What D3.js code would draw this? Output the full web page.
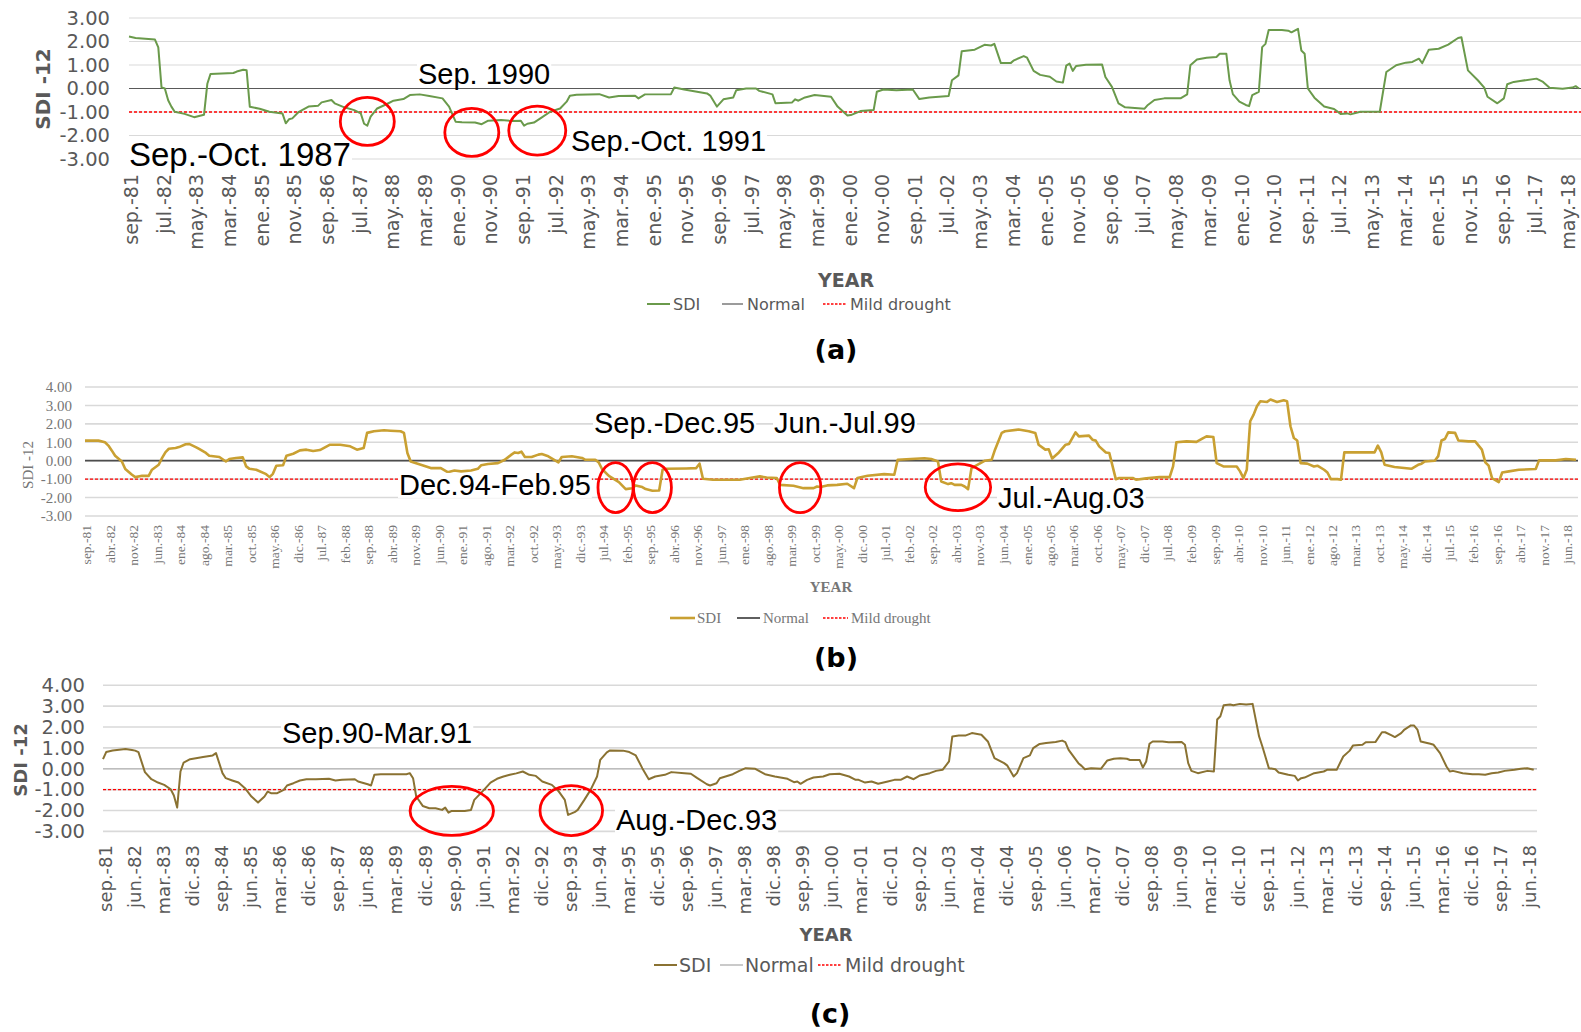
<!doctype html>
<html>
<head>
<meta charset="utf-8">
<script src="https://cdn.jsdelivr.net/npm/d3@7"></script>
<style>
  body { margin: 0; background: #fff; }
  svg { display: block; }
</style>
</head>
<body>
<svg width="1581" height="1032"></svg>
<script>
// ---- data (SDI-12, monthly at its break points) ----
const monthsEs = ["ene.", "feb.", "mar.", "abr.", "may.", "jun.", "jul.", "ago.", "sep.", "oct.", "nov.", "dic."];
const legendNames = ["SDI", "Normal", "Mild drought"];
const normalLevel = 0;
const mildLevel = -1;
const yTicksA = [3, 2, 1, 0, -1, -2, -3];
const yTicksBC = [4, 3, 2, 1, 0, -1, -2, -3];

const datesA = ["1981-09","1981-11","1982-05","1982-06","1982-07","1982-08","1982-09","1982-10","1982-11","1983-02",
  "1983-05","1983-08","1983-09","1983-10","1984-05","1984-06","1984-08","1984-09","1984-10","1985-01",
  "1985-04","1985-08","1985-09","1985-10","1985-11","1986-01","1986-04","1986-07","1986-08","1986-11",
  "1986-12","1987-03","1987-06","1987-08","1987-09","1987-10","1987-11","1988-01","1988-04","1988-06",
  "1988-09","1988-11","1989-02","1989-05","1989-09","1989-11","1990-01","1990-03","1990-07","1990-09",
  "1990-11","1991-03","1991-06","1991-09","1991-10","1991-11","1992-01","1992-03","1992-06","1992-09",
  "1992-11","1992-12","1993-02","1993-09","1993-12","1994-03","1994-08","1994-09","1994-11","1995-07",
  "1995-08","1995-11","1996-06","1996-07","1996-09","1996-11","1997-02","1997-03","1997-06","1997-09",
  "1997-10","1998-02","1998-03","1998-08","1998-09","1998-10","1998-12","1999-03","1999-08","1999-10",
  "2000-01","2000-02","2000-05","2000-09","2000-10","2000-12","2001-04","2001-09","2001-11","2002-02",
  "2002-08","2002-09","2002-11","2002-12","2003-04","2003-07","2003-09","2003-10","2003-12","2004-03",
  "2004-04","2004-07","2004-08","2004-10","2004-12","2005-03","2005-05","2005-07","2005-08","2005-09",
  "2005-10","2005-11","2006-02","2006-07","2006-08","2006-10","2006-12","2007-02","2007-08","2007-09",
  "2007-11","2008-02","2008-07","2008-09","2008-10","2008-12","2009-03","2009-06","2009-07","2009-09",
  "2009-10","2009-11","2010-01","2010-03","2010-04","2010-05","2010-07","2010-08","2010-09","2010-10",
  "2011-02","2011-04","2011-05","2011-07","2011-08","2011-09","2011-10","2011-12","2012-03","2012-06",
  "2012-08","2012-10","2012-11","2013-02","2013-08","2013-10","2014-01","2014-04","2014-06","2014-08",
  "2014-09","2014-11","2015-02","2015-05","2015-08","2015-09","2015-11","2016-02","2016-04","2016-05",
  "2016-08","2016-10","2016-11","2017-01","2017-03","2017-08","2017-10","2017-12","2018-04","2018-07",
  "2018-08","2018-09"];
const sdiA = [2.21,2.15,2.08,1.75,0.05,0.00,-0.50,-0.77,-0.99,-1.08,
  -1.22,-1.12,0.20,0.62,0.66,0.72,0.80,0.78,-0.78,-0.86,
  -0.99,-1.06,-1.48,-1.31,-1.27,-0.99,-0.77,-0.73,-0.59,-0.49,
  -0.63,-0.80,-0.92,-1.06,-1.50,-1.58,-1.20,-0.85,-0.66,-0.52,
  -0.45,-0.28,-0.25,-0.32,-0.42,-0.77,-1.41,-1.44,-1.45,-1.52,
  -1.37,-1.34,-1.38,-1.37,-1.58,-1.50,-1.45,-1.27,-0.99,-0.85,
  -0.56,-0.31,-0.27,-0.24,-0.38,-0.32,-0.31,-0.42,-0.25,-0.24,
  0.04,-0.04,-0.21,-0.30,-0.77,-0.46,-0.38,-0.07,0.00,0.00,
  -0.10,-0.25,-0.63,-0.60,-0.46,-0.52,-0.38,-0.28,-0.35,-0.77,
  -1.15,-1.13,-0.96,-0.92,-0.14,-0.04,-0.07,-0.04,-0.45,-0.38,
  -0.32,0.35,0.56,1.59,1.65,1.86,1.83,1.90,1.08,1.08,
  1.20,1.38,1.31,0.75,0.58,0.50,0.30,0.25,0.97,1.06,
  0.75,0.96,1.01,1.02,0.49,0.07,-0.63,-0.80,-0.86,-0.70,
  -0.49,-0.42,-0.42,-0.25,0.99,1.23,1.31,1.34,1.48,1.48,
  0.35,-0.24,-0.56,-0.70,-0.75,-0.28,-0.14,1.76,1.90,2.49,
  2.49,2.46,2.39,2.54,1.62,1.48,0.00,-0.39,-0.77,-0.87,
  -1.08,-1.06,-1.10,-0.99,-0.99,0.70,0.99,1.10,1.13,1.27,
  1.08,1.65,1.69,1.87,2.15,2.18,0.77,0.35,0.04,-0.35,
  -0.63,-0.42,0.18,0.28,0.32,0.42,0.28,0.03,-0.01,0.04,
  0.10,0.00];

const datesB = ["1981-09","1981-11","1982-01","1982-03","1982-04","1982-05","1982-06","1982-08","1982-09","1982-11",
  "1982-12","1983-02","1983-04","1983-05","1983-07","1983-08","1983-09","1983-10","1983-12","1984-01",
  "1984-03","1984-04","1984-06","1984-07","1984-09","1984-10","1985-01","1985-03","1985-04","1985-06",
  "1985-08","1985-09","1985-10","1985-12","1986-03","1986-04","1986-05","1986-06","1986-08","1986-09",
  "1986-11","1987-01","1987-03","1987-05","1987-07","1987-10","1988-01","1988-04","1988-06","1988-08",
  "1988-09","1988-11","1989-02","1989-04","1989-07","1989-08","1989-09","1989-10","1990-01","1990-04",
  "1990-07","1990-09","1990-11","1991-01","1991-04","1991-06","1991-07","1991-09","1991-12","1992-02",
  "1992-04","1992-05","1992-06","1992-07","1992-08","1992-10","1992-12","1993-01","1993-03","1993-05",
  "1993-06","1993-07","1993-10","1994-01","1994-02","1994-05","1994-06","1994-07","1994-09","1994-12",
  "1995-02","1995-04","1995-05","1995-07","1995-08","1995-10","1995-12","1996-01","1996-02","1996-08",
  "1996-11","1996-12","1997-01","1997-04","1997-08","1997-12","1998-03","1998-06","1998-08","1998-11",
  "1998-12","1999-04","1999-07","1999-10","1999-11","1999-12","2000-02","2000-05","2000-08","2000-10",
  "2000-11","2001-02","2001-07","2001-10","2001-11","2002-03","2002-07","2002-09","2002-11","2002-12",
  "2003-02","2003-03","2003-04","2003-06","2003-07","2003-08","2003-09","2004-01","2004-03","2004-04",
  "2004-06","2004-07","2004-11","2005-02","2005-04","2005-05","2005-07","2005-08","2005-09","2005-11",
  "2006-01","2006-02","2006-04","2006-05","2006-08","2006-09","2006-10","2006-11","2007-01","2007-02",
  "2007-04","2007-05","2007-09","2007-10","2008-01","2008-05","2008-08","2008-09","2008-10","2009-01",
  "2009-04","2009-06","2009-07","2009-09","2009-10","2009-12","2010-04","2010-05","2010-06","2010-07",
  "2010-08","2010-09","2010-10","2010-11","2011-01","2011-02","2011-04","2011-06","2011-07","2011-08",
  "2011-09","2011-10","2011-11","2012-01","2012-03","2012-04","2012-06","2012-07","2012-08","2012-10",
  "2012-11","2012-12","2013-04","2013-09","2013-10","2013-11","2013-12","2014-03","2014-08","2014-10",
  "2014-11","2014-12","2015-03","2015-04","2015-05","2015-06","2015-07","2015-09","2015-10","2016-01",
  "2016-03","2016-05","2016-06","2016-07","2016-08","2016-10","2016-11","2017-01","2017-04","2017-09",
  "2017-10","2018-03","2018-06","2018-09"];
const sdiB = [1.09,1.10,1.09,1.00,0.82,0.56,0.27,-0.04,-0.45,-0.76,
  -0.89,-0.82,-0.82,-0.49,-0.22,0.15,0.47,0.65,0.69,0.74,
  0.89,0.91,0.74,0.64,0.42,0.27,0.20,-0.04,0.09,0.15,
  0.18,-0.31,-0.44,-0.49,-0.73,-0.89,-0.71,-0.27,-0.25,0.27,
  0.38,0.56,0.60,0.53,0.58,0.87,0.87,0.78,0.60,0.69,
  1.51,1.60,1.65,1.63,1.60,1.51,0.42,-0.04,-0.22,-0.40,
  -0.40,-0.62,-0.53,-0.58,-0.53,-0.44,-0.25,-0.18,-0.13,0.05,
  0.33,0.45,0.42,0.49,0.20,0.20,0.33,0.36,0.24,0.02,
  -0.09,0.20,0.24,0.15,0.05,0.05,-0.09,-0.45,-0.82,-1.16,
  -1.54,-1.49,-1.34,-1.43,-1.54,-1.63,-1.62,-0.49,-0.44,-0.42,
  -0.40,-0.16,-0.98,-1.03,-1.03,-1.03,-0.94,-0.85,-0.91,-0.94,
  -1.31,-1.36,-1.49,-1.49,-1.40,-1.43,-1.34,-1.31,-1.25,-1.49,
  -0.94,-0.82,-0.73,-0.76,0.05,0.09,0.13,0.09,-0.04,-1.13,
  -1.27,-1.22,-1.31,-1.31,-1.40,-1.54,-0.40,0.00,0.05,0.60,
  1.51,1.60,1.69,1.60,1.51,0.87,0.60,0.62,0.12,0.45,
  0.87,0.91,1.54,1.32,1.36,1.14,1.09,0.78,0.45,0.42,
  -1.00,-0.94,-0.94,-1.03,-0.96,-0.89,-0.89,-0.31,1.00,1.05,
  1.02,1.23,1.32,1.29,-0.13,-0.31,-0.31,-0.58,-0.94,-0.49,
  2.14,2.50,2.96,3.23,3.19,3.32,3.19,3.28,3.23,1.87,
  1.23,1.10,-0.13,-0.16,-0.31,-0.27,-0.49,-0.64,-1.00,-1.00,
  -1.03,0.45,0.45,0.45,0.82,0.45,-0.22,-0.34,-0.44,-0.22,
  -0.16,-0.04,0.00,0.25,1.10,1.18,1.54,1.51,1.10,1.05,
  1.05,0.60,-0.09,-0.27,-0.94,-1.16,-0.64,-0.58,-0.49,-0.45,
  0.02,0.02,0.09,0.05];

const datesC = ["1981-09","1981-10","1981-12","1982-04","1982-06","1982-07","1982-08","1982-10","1982-12","1983-02",
  "1983-04","1983-06","1983-07","1983-08","1983-09","1983-10","1983-12","1984-04","1984-07","1984-08",
  "1984-10","1984-11","1985-01","1985-03","1985-05","1985-07","1985-09","1985-11","1985-12","1986-01",
  "1986-03","1986-05","1986-06","1986-08","1986-10","1986-12","1987-03","1987-07","1987-09","1987-11",
  "1988-03","1988-04","1988-07","1988-08","1988-09","1988-11","1989-03","1989-07","1989-08","1989-09",
  "1989-10","1989-12","1990-02","1990-04","1990-06","1990-07","1990-08","1990-09","1991-01","1991-03",
  "1991-04","1991-07","1991-09","1991-11","1992-01","1992-03","1992-05","1992-07","1992-09","1992-11",
  "1993-01","1993-04","1993-06","1993-08","1993-09","1993-11","1993-12","1994-02","1994-04","1994-06",
  "1994-07","1994-09","1994-10","1995-02","1995-04","1995-06","1995-08","1995-10","1995-12","1996-03",
  "1996-05","1996-09","1996-11","1997-01","1997-04","1997-05","1997-07","1997-08","1997-12","1998-02",
  "1998-04","1998-07","1998-10","1999-01","1999-05","1999-07","1999-08","1999-09","1999-11","2000-01",
  "2000-04","2000-06","2000-09","2000-12","2001-02","2001-03","2001-05","2001-07","2001-09","2001-12",
  "2002-02","2002-04","2002-06","2002-08","2002-10","2003-01","2003-03","2003-05","2003-07","2003-08",
  "2003-10","2003-12","2004-02","2004-05","2004-07","2004-09","2004-12","2005-01","2005-03","2005-04",
  "2005-06","2005-08","2005-09","2005-11","2006-01","2006-04","2006-06","2006-07","2006-08","2006-11",
  "2006-12","2007-01","2007-03","2007-06","2007-08","2007-10","2007-12","2008-02","2008-03","2008-06",
  "2008-07","2008-08","2008-09","2008-10","2009-01","2009-03","2009-07","2009-08","2009-09","2009-10",
  "2009-12","2010-03","2010-05","2010-06","2010-07","2010-08","2010-10","2010-11","2011-01","2011-03",
  "2011-05","2011-07","2011-08","2011-10","2011-12","2012-01","2012-04","2012-06","2012-07","2012-08",
  "2012-09","2012-12","2013-03","2013-04","2013-07","2013-09","2013-11","2013-12","2014-03","2014-04",
  "2014-07","2014-09","2014-10","2014-12","2015-01","2015-03","2015-04","2015-06","2015-07","2015-08",
  "2015-09","2015-12","2016-01","2016-03","2016-05","2016-06","2016-07","2016-10","2017-01","2017-03",
  "2017-05","2017-07","2017-09","2017-11","2018-02","2018-04","2018-06","2018-08"];
const sdiC = [0.46,0.80,0.88,0.95,0.90,0.87,0.80,-0.16,-0.50,-0.66,
  -0.77,-0.98,-1.28,-1.86,-0.13,0.30,0.46,0.56,0.64,0.75,
  -0.21,-0.45,-0.56,-0.66,-0.93,-1.33,-1.62,-1.33,-1.09,-1.17,
  -1.17,-1.01,-0.80,-0.69,-0.56,-0.50,-0.50,-0.48,-0.56,-0.53,
  -0.50,-0.61,-0.74,-0.80,-0.29,-0.26,-0.26,-0.26,-0.21,-0.45,
  -1.33,-1.78,-1.89,-1.89,-1.97,-1.86,-2.10,-2.02,-2.02,-1.97,
  -1.49,-1.01,-0.66,-0.48,-0.37,-0.29,-0.22,-0.13,-0.29,-0.34,
  -0.61,-0.77,-1.06,-1.49,-2.21,-2.08,-1.97,-1.49,-1.01,-0.37,
  0.43,0.79,0.88,0.87,0.80,0.64,0.03,-0.50,-0.37,-0.29,
  -0.16,-0.21,-0.24,-0.45,-0.74,-0.80,-0.69,-0.45,-0.26,-0.10,
  0.03,0.00,-0.26,-0.37,-0.48,-0.64,-0.61,-0.72,-0.53,-0.42,
  -0.37,-0.26,-0.24,-0.37,-0.53,-0.53,-0.66,-0.61,-0.72,-0.61,
  -0.53,-0.53,-0.37,-0.50,-0.32,-0.21,-0.10,-0.05,0.35,1.55,
  1.59,1.59,1.71,1.63,1.31,0.51,0.27,0.15,-0.37,-0.21,
  0.51,0.64,0.99,1.19,1.23,1.28,1.35,1.28,0.91,0.27,
  0.14,-0.02,0.03,0.00,0.40,0.48,0.51,0.48,0.42,0.42,
  0.06,0.35,1.20,1.31,1.31,1.27,1.28,1.15,0.27,-0.10,
  -0.21,-0.10,-0.13,2.36,2.52,3.04,3.08,3.04,3.11,3.08,
  3.11,1.55,1.07,0.03,-0.02,-0.18,-0.29,-0.34,-0.56,-0.45,
  -0.42,-0.21,-0.13,-0.05,-0.05,0.59,0.87,1.11,1.15,1.27,
  1.28,1.75,1.75,1.60,1.52,1.71,1.88,2.08,2.07,1.88,
  1.31,1.20,1.15,0.75,0.11,-0.13,-0.10,-0.21,-0.26,-0.26,
  -0.29,-0.21,-0.18,-0.10,-0.05,0.00,0.03,-0.05];

// ---- drawing ----
const parseMonth = d3.utcParse("%Y-%m");
const axisStart = parseMonth("1981-09");
const axisEnd = parseMonth("2018-09");
const svg = d3.select("svg");
svg.append("rect").attr("width", 1581).attr("height", 1032).attr("fill", "#fff");

const VERDANA = "'DejaVu Sans', Verdana, sans-serif";
const TIMES = "'Liberation Serif', 'Times New Roman', serif";
const ARIAL = "'Liberation Sans', Arial, sans-serif";

const panels = [
  { dates: datesA, values: sdiA, yTicks: yTicksA, tickStep: 10,
    left: 129, right: 1579, gridRight: 1581, top: 18, bottom: 159, gridW: 1.2,
    color: "#6a9a4b", lineW: 2, zeroColor: "#595959", zeroW: 1.2,
    font: VERDANA, textColor: "#595959", yLabelRight: 110, yLabelSize: 19.5,
    tickTop: 174, tickSize: 19, tickDx: 2,
    title: [43, 89, 20], year: [846, 280, 19], yearFont: VERDANA,
    legendY: 304, legendSize: 16, legend: [[647, 670, 673], [722, 743, 747], [823, 847, 850]],
    caption: ["(a)", 836, 350],
    notes: [["Sep. 1990", 418, 84, 29], ["Sep.-Oct. 1987", 129, 166, 33], ["Sep.-Oct. 1991", 571, 151, 29]],
    rings: [["1987-10", -1.40, 27, 24], ["1990-06", -1.87, 27, 24], ["1992-02", -1.79, 28.5, 24.5]] },
  { dates: datesB, values: sdiB, yTicks: yTicksBC, tickStep: 7,
    left: 85, right: 1576, gridRight: 1578, top: 387, bottom: 516, gridW: 1.6,
    color: "#c9a032", lineW: 2.6, zeroColor: "#4d4d4d", zeroW: 1.8,
    font: TIMES, textColor: "#767676", yLabelRight: 72, yLabelSize: 15,
    tickTop: 525, tickSize: 13.5, tickDx: 1,
    title: [28, 465, 15], year: [831, 587, 15], yearFont: TIMES,
    legendY: 618, legendSize: 15, legend: [[670, 695, 697], [737, 760, 763], [823, 848, 851]],
    caption: ["(b)", 836, 658],
    notes: [["Sep.-Dec.95", 594, 433, 29], ["Jun.-Jul.99", 774, 433, 29], ["Dec.94-Feb.95", 399, 495, 29], ["Jul.-Aug.03", 998, 508, 29]],
    rings: [["1994-11", -1.46, 17.6, 25], ["1995-10", -1.46, 19, 25], ["1999-06", -1.46, 20.7, 25], ["2003-05", -1.44, 32.7, 23.3]] },
  { dates: datesC, values: sdiC, yTicks: yTicksBC, tickStep: 9,
    left: 103, right: 1537, gridRight: 1537, top: 685.3, bottom: 831.4, gridW: 1.6,
    color: "#8a7232", lineW: 2, zeroColor: "#bdbdbd", zeroW: 1.6,
    font: VERDANA, textColor: "#595959", yLabelRight: 85, yLabelSize: 19.5,
    tickTop: 845, tickSize: 18, tickDx: 2,
    title: [21, 760, 18], year: [826, 935, 18], yearFont: VERDANA,
    legendY: 965, legendSize: 19, legend: [[654, 677, 679], [720, 743, 745], [818, 842, 845]],
    caption: ["(c)", 830, 1014],
    notes: [["Sep.90-Mar.91", 282, 743, 29], ["Aug.-Dec.93", 616, 830, 29]],
    rings: [["1990-09", -2.02, 41.7, 24.5], ["1993-10", -2.0, 31.3, 25]] }
];

function drawPanel(p) {
  const x = d3.scaleUtc().domain([axisStart, axisEnd]).range([p.left, p.right]);
  const y = d3.scaleLinear().domain([d3.min(p.yTicks), d3.max(p.yTicks)]).range([p.bottom, p.top]);
  const g = svg.append("g");

  // gridlines
  g.append("g").selectAll("line").data(p.yTicks).enter().append("line")
    .attr("x1", p.left).attr("x2", p.gridRight)
    .attr("y1", d => y(d)).attr("y2", d => y(d))
    .attr("stroke", "#d9d9d9").attr("stroke-width", p.gridW);

  // y axis labels
  g.append("g").attr("transform", "translate(" + p.yLabelRight + ",0)")
    .call(d3.axisLeft(y).tickValues(p.yTicks).tickSize(0).tickPadding(0).tickFormat(d => d.toFixed(2)))
    .call(a => a.select(".domain").remove())
    .selectAll("text")
      .attr("font-family", p.font).attr("font-size", p.yLabelSize).attr("fill", p.textColor);

  // x axis labels, every tickStep months, rotated
  const tickDates = d3.utcMonth.range(axisStart, d3.utcMonth.offset(axisEnd, 1))
    .filter((d, i) => i % p.tickStep === 0);
  g.append("g").attr("transform", "translate(" + p.tickDx + "," + p.tickTop + ")")
    .call(d3.axisBottom(x).tickValues(tickDates).tickSize(0)
      .tickFormat(d => monthsEs[d.getUTCMonth()] + "-" + d3.utcFormat("%y")(d)))
    .call(a => a.select(".domain").remove())
    .selectAll("text")
      .attr("transform", "rotate(-90)").attr("x", 0).attr("y", 0).attr("dy", "0.35em")
      .attr("text-anchor", "end")
      .attr("font-family", p.font).attr("font-size", p.tickSize).attr("fill", p.textColor);

  // normal and mild drought reference lines
  g.append("line").attr("x1", p.left).attr("x2", p.gridRight)
    .attr("y1", y(normalLevel)).attr("y2", y(normalLevel))
    .attr("stroke", p.zeroColor).attr("stroke-width", p.zeroW);
  g.append("line").attr("x1", p.left).attr("x2", p.gridRight)
    .attr("y1", y(mildLevel)).attr("y2", y(mildLevel))
    .attr("stroke", "#ff0000").attr("stroke-width", 1.3).attr("stroke-dasharray", "3,2");

  // SDI series
  const pts = p.dates.map((d, i) => ({ date: parseMonth(d), v: p.values[i] }));
  g.append("path").datum(pts)
    .attr("d", d3.line().x(d => x(d.date)).y(d => y(d.v)))
    .attr("fill", "none").attr("stroke", p.color).attr("stroke-width", p.lineW)
    .attr("stroke-linejoin", "round");

  // axis titles
  g.append("text")
    .attr("transform", "translate(" + p.title[0] + "," + p.title[1] + ") rotate(-90)")
    .attr("text-anchor", "middle").attr("dy", "0.35em")
    .attr("font-family", p.font).attr("font-size", p.title[2])
    .attr("font-weight", p.font === TIMES ? "normal" : "bold").attr("fill", p.textColor)
    .text("SDI -12");
  g.append("text").attr("x", p.year[0]).attr("y", p.year[1]).attr("dy", "0.35em")
    .attr("text-anchor", "middle").attr("font-family", p.yearFont).attr("font-size", p.year[2])
    .attr("font-weight", "bold").attr("fill", p.textColor).text("YEAR");

  // legend
  const lg = g.append("g").attr("font-family", p.font).attr("font-size", p.legendSize).attr("fill", p.textColor);
  const sample = [
    { stroke: p.color, w: p.lineW, dash: null },
    { stroke: p.zeroColor, w: p.zeroW, dash: null },
    { stroke: "#ff0000", w: 1.3, dash: "2.5,1.5" }
  ];
  legendNames.forEach((name, i) => {
    const pos = p.legend[i];
    lg.append("line").attr("x1", pos[0]).attr("x2", pos[1])
      .attr("y1", p.legendY).attr("y2", p.legendY)
      .attr("stroke", sample[i].stroke).attr("stroke-width", sample[i].w)
      .attr("stroke-dasharray", sample[i].dash);
    lg.append("text").attr("x", pos[2]).attr("y", p.legendY).attr("dy", "0.35em").text(name);
  });

  // panel caption
  g.append("text").attr("x", p.caption[1]).attr("y", p.caption[2]).attr("dy", "0.35em")
    .attr("text-anchor", "middle").attr("font-family", VERDANA).attr("font-size", 27)
    .attr("font-weight", "bold").attr("fill", "#000").text(p.caption[0]);

  // annotation text boxes (white fill hides the gridlines behind the text)
  p.notes.forEach(n => {
    const box = g.append("rect").attr("fill", "#fff");
    const t = g.append("text").attr("x", n[1]).attr("y", n[2])
      .attr("font-family", ARIAL).attr("font-size", n[3]).attr("fill", "#000").text(n[0]);
    const bb = t.node().getBBox();
    box.attr("x", bb.x - 1).attr("width", bb.width + 2)
      .attr("y", n[2] - 0.76 * n[3]).attr("height", 0.86 * n[3]);
  });

  // red rings around drought episodes
  g.append("g").selectAll("ellipse").data(p.rings).enter().append("ellipse")
    .attr("cx", d => x(parseMonth(d[0]))).attr("cy", d => y(d[1]))
    .attr("rx", d => d[2]).attr("ry", d => d[3])
    .attr("fill", "none").attr("stroke", "#ff0000").attr("stroke-width", 2.8);
}

panels.forEach(drawPanel);
</script>
</body>
</html>
